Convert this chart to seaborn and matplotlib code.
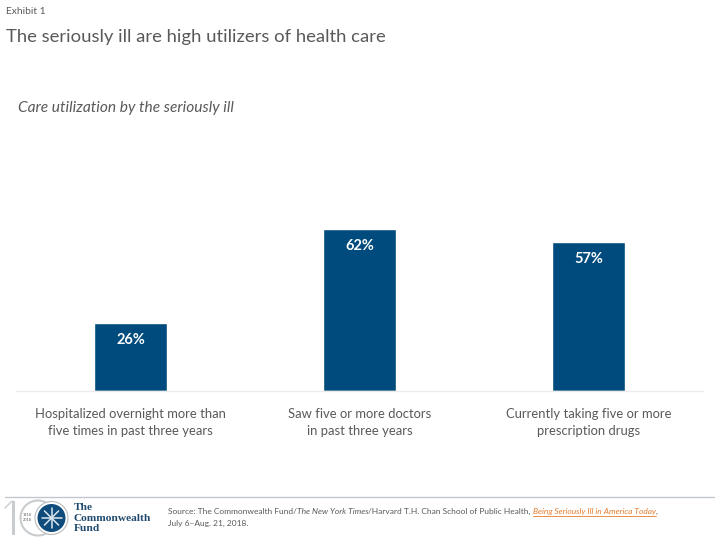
"""Exhibit 1: care utilization by the seriously ill"""
import numpy as np
import pandas as pd
import seaborn as sns
import matplotlib.pyplot as plt
from matplotlib.lines import Line2D
from matplotlib.patches import Circle, Rectangle

categories = [
    "Hospitalized overnight more than\nfive times in past three years",
    "Saw five or more doctors\nin past three years",
    "Currently taking five or more\nprescription drugs",
]
values = [26, 62, 57]
value_labels = ["26%", "62%", "57%"]

BLUE = "#004B7D"
GREY = "#595959"
ORANGE = "#E97B2B"
W, H = 720, 540

sns.set_theme(style="white")
plt.rcParams["font.family"] = ["Lato", "DejaVu Sans"]

fig = plt.figure(figsize=(W / 100, H / 100), dpi=100)
# axes placed in pixel terms, y counted from the top of the picture
ax = fig.add_axes([16 / W, 1 - 390.5 / H, 687 / W, 260 / H])

data = pd.DataFrame({"category": categories, "value": values})
sns.barplot(data=data, x="category", y="value", color=BLUE, saturation=1,
            width=0.316, ax=ax)
ax.set_ylim(0, 100)
ax.set_xlabel("")
ax.set_ylabel("")
ax.set_yticks([])
ax.tick_params(axis="x", length=0, pad=12.5, labelsize=9.4, labelcolor=GREY)
sns.despine(ax=ax, left=True)
ax.spines["bottom"].set_color("#EBEBEB")
ax.spines["bottom"].set_linewidth(1)
for tick in ax.get_xticklabels():
    tick.set_linespacing(1.5)

for bar, label in zip(ax.patches, value_labels):
    ax.annotate(label, (bar.get_x() + bar.get_width() / 2, bar.get_height()),
                xytext=(0, -10), textcoords="offset pixels", ha="center", va="top",
                color="white", fontsize=10.5, fontweight="bold")


def px(x, y):
    return x / W, 1 - y / H


fig.text(*px(5.5, 11), "Exhibit 1", fontsize=7.4, color=GREY, va="center")
fig.text(*px(5.5, 37), "The seriously ill are high utilizers of health care",
         fontsize=13.3, color=GREY, va="center")
fig.text(*px(18.5, 108), "Care utilization by the seriously ill", fontsize=11.2,
         color=GREY, style="italic", va="center")

# footer rule
fig.add_artist(Line2D([5 / W, 714 / W], [1 - 496.5 / H] * 2, color="#C4C8CE", lw=1))

# source note is made of runs, each placed after the one before
renderer = fig.canvas.get_renderer()
x = 168.0
runs = [
    ("Source: The Commonwealth Fund/", "normal", GREY),
    ("The New York Times", "italic", GREY),
    ("/Harvard T.H. Chan School of Public Health, ", "normal", GREY),
    ("Being Seriously Ill in America Today", "italic", ORANGE),
    (",", "normal", GREY),
]
for text, style, colour in runs:
    t = fig.text(*px(x, 511.5), text, fontsize=6.05, color=colour, style=style,
                 va="center")
    width = t.get_window_extent(renderer).width
    if colour == ORANGE:
        fig.add_artist(Line2D([x / W, (x + width) / W], [1 - 516 / H] * 2,
                              color=ORANGE, lw=0.6))
    x += width
fig.text(*px(168, 523), "July 6\u2013Aug. 21, 2018.", fontsize=6.05, color=GREY,
         va="center")

# logo, drawn in an overlay axes in picture pixels
logo = fig.add_axes([0, 0, 1, 1], facecolor="none")
logo.set_xlim(0, W)
logo.set_ylim(H, 0)
logo.axis("off")
logo.add_patch(Rectangle((12, 501), 3, 34, color="#C9CCCF", lw=0))
logo.plot([5, 12], [508, 501], color="#C9CCCF", lw=1)
logo.add_patch(Circle((38, 518), 17.5, fill=False, ec="#C9CCCF", lw=1.5))
logo.add_patch(Circle((51.5, 518), 16.5, fc="white", ec="#B8BCC0", lw=0.8))
logo.add_patch(Circle((51.5, 518), 14, color="#0F4C7C", lw=0))
for angle in np.arange(0, 180, 45):
    dx, dy = 10 * np.cos(np.radians(angle)), 10 * np.sin(np.radians(angle))
    logo.plot([51.5 - dx, 51.5 + dx], [518 - dy, 518 + dy], color="#DCE6EE", lw=1.1,
              solid_capstyle="round")
logo.text(27.5, 515, "1918", fontsize=2.8, color=GREY, ha="center", va="center")
logo.text(27.5, 520, "2018", fontsize=2.8, color=GREY, ha="center", va="center")
for y, word in zip([508, 518.5, 528.5], ["The", "Commonwealth", "Fund"]):
    logo.text(74, y, word, fontsize=8.2, fontweight="bold", family="Liberation Serif",
              color="#1F4A6E", va="center")

fig.savefig("out.png", dpi=100)
plt.close(fig)
